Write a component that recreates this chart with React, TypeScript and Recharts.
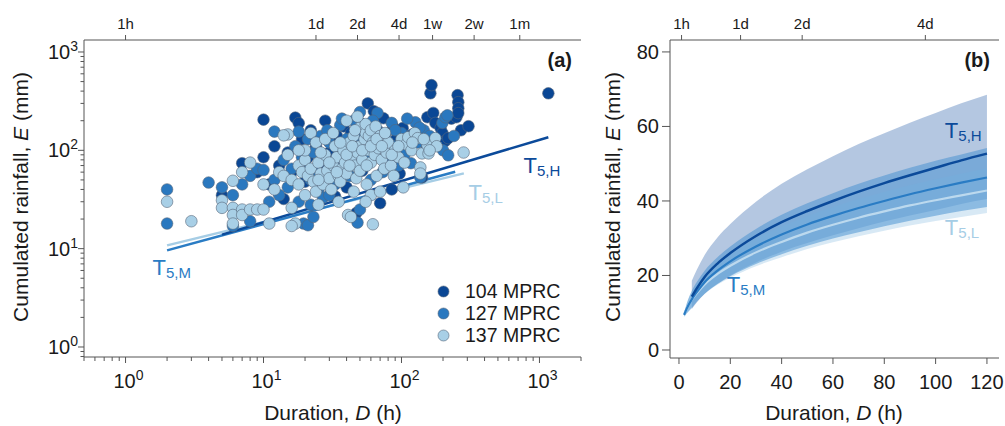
import React from 'react';
import {ComposedChart, Scatter, Line, Area, XAxis, YAxis, Legend, ReferenceDot} from 'recharts';

const FONT = '"Liberation Sans", Arial, sans-serif';
const AXIS = '#555';
const INK = '#1a1a1a';
const EDGE = '#56667a';
const DARK = '#0b4a9a';
const MID = '#2a7cc4';
const LIGHT = '#a6cde5';

// panel (a): events, [duration h, cumulated rainfall mm]
const seriesNames = ['104 MPRC', '127 MPRC', '137 MPRC'];
const pointColors = ['#0a4795', '#2a78bf', '#a8cfe6'];

const events104 = [
  [7, 74], [10, 85], [10, 205], [5, 35], [14, 32], [12, 110], [13, 70], [15, 95], [17, 215], [18, 189],
  [16, 60], [19, 130], [20, 48], [21, 85], [22, 160], [24, 110], [25, 62], [27, 75], [28, 200], [30, 95],
  [32, 52], [34, 140], [36, 78], [38, 175], [40, 42], [43, 150], [45, 105], [47, 23], [47, 88], [50, 190],
  [52, 62], [55, 125], [57, 300], [60, 92], [63, 250], [67, 160], [70, 29], [74, 212], [78, 118], [82, 82],
  [87, 172], [92, 132], [97, 58], [102, 168], [110, 108], [120, 145], [141, 53], [150, 100], [154, 217], [162, 380],
  [165, 460], [170, 240], [176, 190], [192, 168], [198, 150], [208, 125], [218, 133], [230, 210], [250, 217], [255, 364],
  [258, 309], [258, 268], [258, 239], [270, 160], [306, 176], [1160, 380], [33, 34], [85, 40], [11, 45], [9, 60],
];

const events127 = [
  [2, 40], [2, 18], [4, 47], [5, 42], [6, 17], [6, 35], [7, 45], [8, 19], [8, 55], [9, 65],
  [10, 63], [11, 30], [12, 155], [12, 50], [13, 35], [14, 80], [15, 42], [16, 65], [17, 110], [18, 30],
  [19.5, 18], [20, 75], [21, 17.3], [22, 50], [23, 21], [23, 95], [24, 60], [25, 40], [26, 140], [27, 33],
  [28, 80], [30, 120], [31, 60], [33, 45], [35, 100], [36, 180], [38, 70], [40, 130], [42, 55], [45, 200],
  [46, 85], [48, 18.4], [50, 245], [52, 110], [55, 70], [58, 160], [60, 50], [63, 90], [67, 240], [70, 115],
  [73, 60], [76, 145], [80, 80], [85, 190], [90, 110], [95, 70], [100, 150], [105, 90], [117, 74], [126, 193],
  [130, 120], [137, 53], [145, 160], [160, 140], [198, 190], [208, 217], [215, 227], [200, 100], [218, 89], [240, 140],
  [22, 28], [30, 35], [18, 155], [50, 25], [19, 85], [21, 130], [29, 160], [33, 75], [37, 210], [41, 95],
  [47, 140], [53, 180], [57, 85], [62, 200], [90, 160], [110, 210], [135, 170],
];

const events137 = [
  [2, 30], [3, 19], [5, 31], [5, 26], [6, 49], [6, 26], [6, 22], [6, 18], [7, 60], [7, 25],
  [7, 22], [8, 75], [8, 25], [9, 25], [10, 25], [11, 18], [10, 45], [12, 40], [13, 60], [15, 145],
  [14, 142], [16, 26], [17, 18], [16, 17], [15, 90], [18, 70], [14, 55], [16, 50], [18, 45], [19, 60],
  [20, 80], [20, 35], [21, 55], [22, 65], [22, 150], [23, 48], [24, 38], [25, 75], [26, 58], [27, 45],
  [28, 90], [29, 62], [30, 52], [31, 40], [32, 70], [33, 110], [34, 85], [35, 55], [36, 48], [37, 65],
  [38, 100], [39, 75], [40, 58], [41, 22], [43, 21], [42, 120], [44, 88], [45, 140], [46, 70], [47, 52],
  [48, 95], [50, 110], [50, 62], [50, 170], [52, 80], [54, 130], [55, 150], [55, 185], [56, 45], [58, 100],
  [58, 140], [60, 75], [60, 160], [62, 17.7], [62, 120], [64, 90], [65, 175], [66, 55], [68, 105], [70, 140],
  [72, 80], [75, 65], [78, 95], [80, 120], [84, 70], [88, 55], [90, 100], [95, 85], [100, 130], [103, 42],
  [105, 75], [108, 115], [112, 136], [118, 100], [125, 150], [131, 133], [137, 67], [137, 58], [141, 93], [154, 113],
  [157, 93], [176, 133], [180, 110], [282, 95], [60, 35], [35, 30], [25, 28], [45, 38], [55, 30], [70, 38],
  [20, 100], [24, 120], [26, 95], [28, 130], [30, 75], [32, 150], [34, 60], [36, 120], [40, 90], [42, 70],
  [44, 110], [46, 160], [52, 100], [56, 70], [60, 110], [66, 130], [72, 110], [76, 150], [85, 90], [95, 110],
  [120, 120], [145, 130], [160, 100], [25, 50], [18, 100], [40, 200], [48, 220],
];

// panel (a): T5 threshold lines (end points)
const lineH = [[5, 13.9], [1160, 136]];
const lineM = [[2, 9.6], [245, 60.5]];
const lineL = [[2, 10.8], [283, 58.3]];

// panel (b): curves and bands
const curveD = [2, 3, 5, 7, 10, 15, 20, 30, 40, 50, 60, 70, 80, 90, 100, 110, 120];
const hMean = [null, null, 14.3, 16.6, 19.6, 23.2, 26.0, 30.6, 34.3, 37.3, 40.0, 42.5, 44.8, 46.9, 48.9, 50.9, 52.7];
const mMean = [9.4, 11.1, 13.6, 15.6, 18.2, 21.3, 23.8, 27.8, 31.0, 33.7, 36.0, 38.1, 40.0, 41.8, 43.4, 44.9, 46.3];
const lMean = [9.6, 11.2, 13.5, 15.3, 17.6, 20.4, 22.6, 26.2, 29.0, 31.5, 33.6, 35.5, 37.2, 38.8, 40.2, 41.5, 42.8];
const hHigh = [null, null, 18.6, 21.6, 25.5, 30.2, 33.8, 39.8, 44.6, 48.5, 52.0, 55.3, 58.2, 61.0, 63.6, 66.2, 68.5];
const hLow = [null, null, 11.0, 12.8, 15.1, 17.8, 20.0, 23.5, 26.4, 28.7, 30.8, 32.7, 34.5, 36.1, 37.6, 39.2, 40.5];
const mHigh = [9.9, 12.4, 15.9, 18.3, 21.3, 24.9, 27.8, 32.5, 36.3, 39.4, 42.1, 44.6, 46.8, 48.9, 50.8, 52.5, 54.2];
const mLow = [8.9, 9.8, 11.3, 13.0, 15.1, 17.7, 19.8, 23.1, 25.7, 28.0, 29.9, 31.6, 33.2, 34.7, 36.0, 37.3, 38.4];
const lHigh = [10.1, 12.4, 15.4, 17.5, 20.1, 23.3, 25.8, 29.9, 33.1, 35.9, 38.3, 40.5, 42.4, 44.2, 45.8, 47.3, 48.8];
const lLow = [9.1, 9.9, 11.6, 13.2, 15.1, 17.5, 19.4, 22.5, 24.9, 27.1, 28.9, 30.5, 32.0, 33.4, 34.6, 35.7, 36.8];

// ticks
const logXTicks = [0.5, 0.6, 0.7, 0.8, 0.9, 1, 2, 3, 4, 5, 6, 7, 8, 9, 10, 20, 30, 40, 50, 60, 70, 80, 90,
  100, 200, 300, 400, 500, 600, 700, 800, 900, 1000, 2000];
const logYTicks = [0.8, 0.9, 1, 2, 3, 4, 5, 6, 7, 8, 9, 10, 20, 30, 40, 50, 60, 70, 80, 90,
  100, 200, 300, 400, 500, 600, 700, 800, 900, 1000];
const topTicksA = [1, 24, 48, 96, 168, 336, 720];
const topLabelsA = ['1h', '1d', '2d', '4d', '1w', '2w', '1m'];
const topTicksB = [1, 24, 48, 96];
const topLabelsB = ['1h', '1d', '2d', '4d'];
const linXTicks = [0, 20, 40, 60, 80, 100, 120];
const linYTicks = [0, 20, 40, 60, 80];

const toPts = (arr: number[][]) => arr.map(([d, e]) => ({d, e}));
const bandRows = curveD.map((d, i) => ({
  d,
  h: hMean[i],
  m: mMean[i],
  l: lMean[i],
  hBand: hLow[i] == null ? null : [hLow[i], hHigh[i]],
  mBand: [mLow[i], mHigh[i]],
  lBand: [lLow[i], lHigh[i]],
}));

const isDecade = (v: number) => Math.abs(Math.log10(v) - Math.round(Math.log10(v))) < 1e-9;

const LogLeftTick = (p: any) => {
  const v = p.payload.value;
  const major = isDecade(v);
  return (
    <g>
      <line x1={p.x} x2={p.x - (major ? 6 : 3.5)} y1={p.y} y2={p.y} stroke={AXIS} />
      {major && (
        <text x={p.x - 6} y={p.y + 7} textAnchor="end" fontSize={20} fill={INK} fontFamily={FONT}>
          10<tspan dy={-8} fontSize={14}>{Math.round(Math.log10(v))}</tspan>
        </text>
      )}
    </g>
  );
};

const LogBottomTick = (p: any) => {
  const v = p.payload.value;
  const major = isDecade(v);
  return (
    <g>
      <line x1={p.x} x2={p.x} y1={p.y} y2={p.y + (major ? 6 : 4)} stroke={AXIS} />
      {major && (
        <text x={p.x + 3} y={p.y + 31} textAnchor="middle" fontSize={20} fill={INK} fontFamily={FONT}>
          10<tspan dy={-8} fontSize={14}>{Math.round(Math.log10(v))}</tspan>
        </text>
      )}
    </g>
  );
};

const topTick = (ticks: number[], labels: string[]) => (p: any) => (
  <g>
    <line x1={p.x} x2={p.x} y1={p.y} y2={p.y - 5} stroke={AXIS} />
    <text x={p.x} y={p.y - 11} textAnchor="middle" fontSize={15} fill={INK} fontFamily={FONT}>
      {labels[ticks.indexOf(p.payload.value)]}
    </text>
  </g>
);

const LinLeftTick = (p: any) => (
  <g>
    <line x1={p.x} x2={p.x - 8} y1={p.y} y2={p.y} stroke={AXIS} />
    <text x={p.x - 11} y={p.y + 7} textAnchor="end" fontSize={20} fill={INK} fontFamily={FONT}>{p.payload.value}</text>
  </g>
);

const LinBottomTick = (p: any) => (
  <g>
    <line x1={p.x} x2={p.x} y1={p.y} y2={p.y + 6} stroke={AXIS} />
    <text x={p.x} y={p.y + 31} textAnchor="middle" fontSize={20} fill={INK} fontFamily={FONT}>{p.payload.value}</text>
  </g>
);

const tag = (sub: string, color: string) => (p: any) => (
  <text x={p.cx} y={p.cy} fill={color} fontSize={22} fontFamily={FONT}>
    T<tspan fontSize={15} dy={3}>{sub}</tspan>
  </text>
);

const xTitle = (cx: number) => () => (
  <text x={cx} y={420} textAnchor="middle" fontSize={21} fill={INK} fontFamily={FONT}>
    Duration, <tspan fontStyle="italic">D</tspan> (h)
  </text>
);

const yTitle = (bx: number) => () => (
  <text x={bx} y={197} transform={`rotate(-90 ${bx} 197)`} textAnchor="middle" fontSize={21} fill={INK} fontFamily={FONT}>
    Cumulated rainfall, <tspan fontStyle="italic">E</tspan> (mm)
  </text>
);

const panelTag = (txt: string, ex: number) => () => (
  <text x={ex} y={67} textAnchor="end" fontSize={20} fontWeight="bold" fill={INK} fontFamily={FONT}>{txt}</text>
);

const dot = (fill: string) => (p: any) => (
  <circle cx={p.cx} cy={p.cy} r={5.8} fill={fill} stroke={EDGE} strokeWidth={0.6} />
);

const legendBox = () => (
  <div style={{fontFamily: FONT, fontSize: 19.5, color: INK}}>
    {seriesNames.map((n, i) => (
      <div key={n} style={{display: 'flex', alignItems: 'center', height: 22}}>
        <svg width={13} height={13}>
          <circle cx={6.5} cy={6.5} r={5.5} fill={pointColors[i]} stroke={EDGE} strokeWidth={0.6} />
        </svg>
        <span style={{marginLeft: 15, lineHeight: '22px', whiteSpace: 'nowrap'}}>{n}</span>
      </div>
    ))}
  </div>
);

const PanelA = () => (
  <ComposedChart width={600} height={426} margin={{top: 10, right: 19, bottom: 39, left: 24}}>
    <XAxis dataKey="d" type="number" scale="log" domain={[0.5, 2000]} allowDataOverflow ticks={logXTicks}
      interval={0} tickSize={0} tickMargin={0} tickLine={false} tick={LogBottomTick} height={30}
      axisLine={{stroke: AXIS}} label={xTitle(333)} />
    <XAxis xAxisId="top" dataKey="d" orientation="top" type="number" scale="log" domain={[0.5, 2000]} allowDataOverflow
      ticks={topTicksA} interval={0} tickSize={0} tickMargin={0} tickLine={false}
      tick={topTick(topTicksA, topLabelsA)} height={30} axisLine={{stroke: AXIS}} label={panelTag('(a)', 572)} />
    <YAxis dataKey="e" type="number" scale="log" domain={[0.791, 1324]} allowDataOverflow ticks={logYTicks}
      interval={0} tickSize={0} tickMargin={0} tickLine={false} tick={LogLeftTick} width={60}
      axisLine={{stroke: AXIS}} label={yTitle(28)} />
    <YAxis yAxisId="frame" orientation="right" type="number" domain={[0, 1]} width={0} tick={false}
      tickLine={false} axisLine={{stroke: AXIS}} />
    <Scatter name={seriesNames[0]} data={toPts(events104)} fill={pointColors[0]} shape={dot(pointColors[0])} isAnimationActive={false} />
    <Scatter name={seriesNames[1]} data={toPts(events127)} fill={pointColors[1]} shape={dot(pointColors[1])} isAnimationActive={false} />
    <Scatter name={seriesNames[2]} data={toPts(events137)} fill={pointColors[2]} shape={dot(pointColors[2])} isAnimationActive={false} />
    <Line xAxisId="top" data={toPts(lineL)} dataKey="e" stroke={LIGHT} strokeWidth={2.5} dot={false} activeDot={false} legendType="none" isAnimationActive={false} />
    <Line xAxisId="top" data={toPts(lineM)} dataKey="e" stroke={MID} strokeWidth={2.5} dot={false} activeDot={false} legendType="none" isAnimationActive={false} />
    <Line xAxisId="top" data={toPts(lineH)} dataKey="e" stroke={DARK} strokeWidth={2.5} dot={false} activeDot={false} legendType="none" isAnimationActive={false} />
    <ReferenceDot x={766} y={58.2} r={0} shape={tag('5,H', DARK)} />
    <ReferenceDot x={306} y={31.6} r={0} shape={tag('5,L', LIGHT)} />
    <ReferenceDot x={1.57} y={5.43} r={0} shape={tag('5,M', MID)} />
    <Legend layout="vertical" align="center" verticalAlign="middle" content={legendBox}
      wrapperStyle={{left: 437, top: 280, width: 150, height: 66}} />
  </ComposedChart>
);

const PanelB = () => (
  <ComposedChart width={415} height={426} data={bandRows} margin={{top: 10, right: 6, bottom: 38, left: 20}}>
    <XAxis dataKey="d" type="number" domain={[-3.5, 124.7]} allowDataOverflow ticks={linXTicks} interval={0}
      tickSize={0} tickMargin={0} tickLine={false} tick={LinBottomTick} height={30}
      axisLine={{stroke: AXIS}} label={xTitle(244)} />
    <XAxis xAxisId="top" dataKey="d" orientation="top" type="number" domain={[-3.5, 124.7]} allowDataOverflow
      ticks={topTicksB} interval={0} tickSize={0} tickMargin={0} tickLine={false}
      tick={topTick(topTicksB, topLabelsB)} height={30} axisLine={{stroke: AXIS}} label={panelTag('(b)', 400)} />
    <YAxis type="number" domain={[-2.15, 83.2]} allowDataOverflow ticks={linYTicks} interval={0}
      tickSize={0} tickMargin={0} tickLine={false} tick={LinLeftTick} width={60}
      axisLine={{stroke: AXIS}} label={yTitle(30)} />
    <YAxis yAxisId="frame" orientation="right" type="number" domain={[0, 1]} width={0} tick={false}
      tickLine={false} axisLine={{stroke: AXIS}} />
    <Area dataKey="hBand" type="monotone" stroke="none" fill="#6a8fc4" fillOpacity={0.5} isAnimationActive={false} />
    <Area dataKey="lBand" type="monotone" stroke="none" fill="#a9cfe8" fillOpacity={0.45} isAnimationActive={false} />
    <Area dataKey="mBand" type="monotone" stroke="none" fill="#3f8ed0" fillOpacity={0.5} isAnimationActive={false} />
    <Line dataKey="l" type="monotone" stroke="#bcd9ee" strokeWidth={2.2} dot={false} activeDot={false} isAnimationActive={false} />
    <Line dataKey="m" type="monotone" stroke={MID} strokeWidth={2.2} dot={false} activeDot={false} isAnimationActive={false} />
    <Line xAxisId="top" dataKey="h" type="monotone" stroke={DARK} strokeWidth={2.5} dot={false} activeDot={false} isAnimationActive={false} />
    <ReferenceDot x={103.6} y={56.8} r={0} shape={tag('5,H', DARK)} />
    <ReferenceDot x={103.6} y={30.9} r={0} shape={tag('5,L', LIGHT)} />
    <ReferenceDot x={18.6} y={15.65} r={0} shape={tag('5,M', MID)} />
  </ComposedChart>
);

export default function App() {
  return (
    <div style={{position: 'absolute', left: 0, top: 0, width: 1005, height: 426, background: '#fff'}}>
      <div style={{position: 'absolute', left: 0, top: 0}}>
        <PanelA />
      </div>
      <div style={{position: 'absolute', left: 590, top: 0}}>
        <PanelB />
      </div>
    </div>
  );
}
